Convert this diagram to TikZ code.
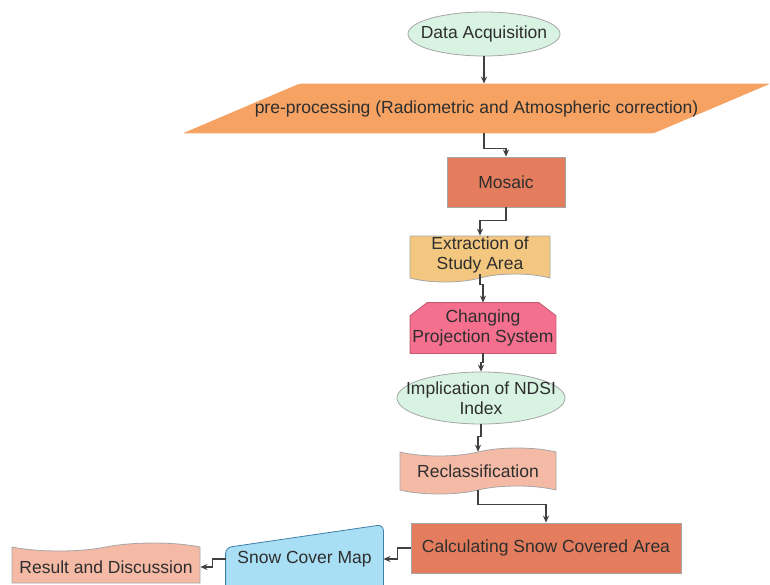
\documentclass[tikz,border=0pt]{standalone}
\usepackage{fontspec}
\setmainfont{Liberation Sans}
\usetikzlibrary{shapes.symbols,arrows.meta,positioning}
\definecolor{mintfill}{HTML}{D8F3E2}
\definecolor{sandfill}{HTML}{F5A262}
\definecolor{brickfill}{HTML}{E47D5E}
\definecolor{ochrefill}{HTML}{F3C77F}
\definecolor{rosefill}{HTML}{F4708E}
\definecolor{peachfill}{HTML}{F5BAA6}
\definecolor{skyfill}{HTML}{A9DFF5}
\definecolor{skyline}{HTML}{3E7FA8}
\definecolor{textgray}{HTML}{2E2E2E}
\pgfdeclarelayer{back}
\pgfsetlayers{back,main}
\tikzset{
	box/.style = {draw = gray!70, line width = 0.8pt, text = textgray, align = center, inner sep = 0pt,
		font = \fontsize{17.5}{20}\selectfont},
	bare/.style = {box, draw = none},
	wave/.style = {box, tape, tape bend height = 8pt},
	outline/.style = {line width = 0.8pt},
	link/.style = {draw = black!75, line width = 1.4pt, -{Stealth[length = 7pt, width = 6pt]}}
}
\begin{document}
\begin{tikzpicture}[x = 1pt, y = -1pt]
					
					\clip (0,0) rectangle (770,585);
					
					\node[bare, minimum width = 152, minimum height = 44] (acq) at (484,34) {Data Acquisition};
					
					\node[bare, minimum width = 587, minimum height = 49] (pre) at (476.5,108.5)
						{pre-processing (Radiometric and Atmospheric correction)};
					
					\node[box, fill = brickfill, minimum width = 118, minimum height = 50] (mosaic) at (506,182) {Mosaic};
					
					\node[wave, tape bend top = none, fill = ochrefill, minimum width = 140, minimum height = 46] (extract) at (480,255)
						{Extraction of\\Study Area};
					
					\node[bare, minimum width = 145, minimum height = 50] (proj) at (483,328) {Changing\\Projection System};
					
					\node[bare, minimum width = 168, minimum height = 52] (ndsi) at (481,398) {Implication of NDSI\\Index};
					
					\node[wave, fill = peachfill, minimum width = 156, minimum height = 46] (reclass) at (478,471) {Reclassification};
					
					\node[box, fill = brickfill, minimum width = 270, minimum height = 50] (calc) at (546,548)
						{Calculating Snow Covered Area};
					
					\node[bare, minimum width = 157, minimum height = 68] (snow) at (304.5,559) {Snow Cover Map};
					
					\node[wave, tape bend bottom = none, fill = peachfill, minimum width = 188, minimum height = 40] (result) at (106,567)
						{Result and Discussion};
					
					\begin{pgfonlayer}{back}
						\filldraw[outline, fill = mintfill, draw = gray!70] (acq.center) ellipse [x radius = 76pt, y radius = 22pt];
						\filldraw[outline, fill = mintfill, draw = gray!70] (ndsi.center) ellipse [x radius = 84pt, y radius = 26pt];
						\fill[sandfill, rounded corners = 2pt] ([xshift = 117pt]pre.north west) -- (pre.north east)
							-- ([xshift = -117pt]pre.south east) -- (pre.south west) -- cycle;
						\filldraw[outline, fill = rosefill, draw = rosefill!80!black] (proj.south west) -- ([yshift = -13pt]proj.north west)
							-- ([xshift = 17pt]proj.north west) -- ([xshift = -17pt]proj.north east)
							-- ([yshift = -13pt]proj.north east) -- (proj.south east) -- cycle;
						\filldraw[outline, fill = skyfill, draw = skyline, rounded corners = 6pt]
							(snow.south west) -- ([yshift = -23pt]snow.north west) -- (snow.north east) -- (snow.south east) -- cycle;
					\end{pgfonlayer}
					
					\draw[link] (acq.south) -- (pre.north -| acq.south);
					\draw[link] (acq.south |- pre.south) -- ++(0,15) -| (mosaic.north);
					\draw[link] (mosaic.south) -- ++(0,13) -| (extract.north);
					\draw[link] (extract.south) -- ++(0,10) -| (proj.north);
					\draw[link] (proj.south) -- ++(0,9) -| (ndsi.north);
					\draw[link] (ndsi.south) -- ++(0,12) -| (reclass.north);
					\draw[link] (reclass.south) -- ++(0,14) -| (calc.north);
					\draw[link] (calc.west) -- ++(-13,0) |- (snow.east);
					\draw[link] (snow.west) -- ++(-13,0) |- (result.east);
					
				\end{tikzpicture}
\end{document}
